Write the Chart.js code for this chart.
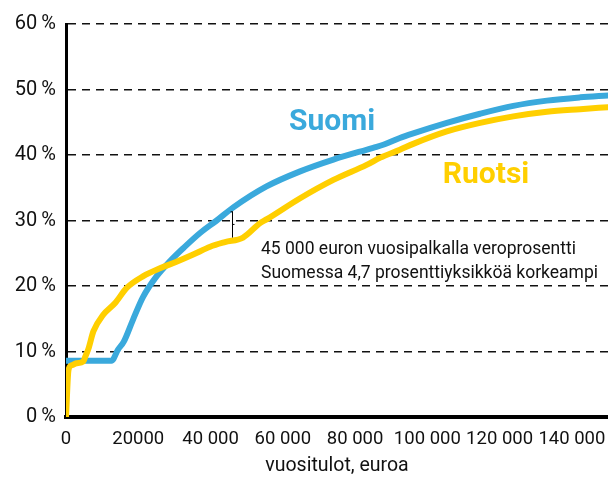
<!DOCTYPE html>
<html>
<head>
<meta charset="utf-8">
<script src="https://cdn.jsdelivr.net/npm/chart.js@4.4.1/dist/chart.umd.min.js"></script>
<style>
  html, body { margin: 0; padding: 0; background: #fff; }
  #wrap { position: relative; width: 608px; height: 478px; }
</style>
</head>
<body>
<div id="wrap"><canvas id="c" width="608" height="478"></canvas></div>
<script>
// ---- data ----
const suomiIncome = [0, 12600, 14400, 16000, 18500, 21300, 25100, 28800, 32500, 37100, 41700, 46300, 55500, 64800, 74000, 85000, 88000, 92400, 96100, 105400, 114600, 123800, 133100, 142300, 150000];
const suomiRate   = [8.6, 8.6, 10.3, 11.5, 14.8, 18.3, 21.5, 23.8, 25.8, 28.1, 30.0, 32.0, 35.2, 37.5, 39.3, 41.1, 41.6, 42.6, 43.3, 44.9, 46.3, 47.5, 48.3, 48.8, 49.1];

const ruotsiIncome = [0, 700, 1600, 2900, 4800, 5400, 6200, 7600, 10300, 13600, 16800, 21400, 26000, 30600, 35200, 39900, 44000, 49000, 53700, 55600, 64800, 74000, 83200, 87000, 92400, 96100, 105400, 114600, 123800, 133100, 142300, 150000];
const ruotsiRate   = [0, 7.2, 7.9, 8.2, 8.5, 9.3, 10.4, 13.1, 15.6, 17.4, 19.7, 21.5, 22.7, 23.7, 24.8, 26.0, 26.7, 27.4, 29.6, 30.2, 33.4, 36.2, 38.5, 39.6, 40.8, 41.7, 43.6, 44.9, 45.9, 46.6, 47.0, 47.3];

const xTickValues = [0, 20000, 40000, 60000, 80000, 100000, 120000, 140000];
const xTickLabels = ['0', '20000', '40 000', '60 000', '80 000', '100 000', '120 000', '140 000'];
const yTickValues = [0, 10, 20, 30, 40, 50, 60];

const seriesNames = ['Suomi', 'Ruotsi'];
const axisTitle = 'vuositulot, euroa';
const noteLines = ['45 000 euron vuosipalkalla veroprosentti', 'Suomessa 4,7 prosenttiyksikköä korkeampi'];
const bracketIncome = 46000;
const bracketTop = 31.4;
const bracketBottom = 27.4;

const BLUE = '#3aa9dc';
const YELLOW = '#ffcf00';
const TICKFONT = "Roboto, sans-serif";

const toPts = (xs, ys) => xs.map((x, i) => ({ x: x, y: ys[i] }));

const overlay = {
  id: 'overlay',
  afterDatasetsDraw(chart) {
    const ctx = chart.ctx;
    const xs = chart.scales.x, ys = chart.scales.y;
    ctx.save();
    // bracket
    const bx = Math.round(xs.getPixelForValue(bracketIncome)) + 0.5;
    const by1 = ys.getPixelForValue(bracketTop);
    const by2 = ys.getPixelForValue(bracketBottom);
    ctx.strokeStyle = '#000';
    ctx.lineWidth = 1;
    ctx.beginPath();
    ctx.moveTo(bx, by1); ctx.lineTo(bx, by2);
    ctx.moveTo(bx - 2, by1 + 0.5); ctx.lineTo(bx, by1 + 0.5);
    const bm = (by1 + by2) / 2;
    ctx.moveTo(bx, bm); ctx.lineTo(bx + 2, bm);
    ctx.stroke();

    // series labels
    ctx.textAlign = 'center';
    ctx.textBaseline = 'middle';
    ctx.font = "bold 30px Roboto, 'Open Sans', sans-serif";
    ctx.fillStyle = BLUE;
    ctx.fillText(seriesNames[0], 332, 122);
    ctx.fillStyle = YELLOW;
    ctx.fillText(seriesNames[1], 486, 175);

    // note
    ctx.textAlign = 'left';
    ctx.textBaseline = 'alphabetic';
    ctx.fillStyle = '#111';
    ctx.font = "17.5px Roboto, sans-serif";
    ctx.fillText(noteLines[0], 261, 254);
    ctx.fillText(noteLines[1], 261, 278);
    ctx.restore();
  }
};

new Chart(document.getElementById('c'), {
  type: 'line',
  data: {
    datasets: [
      {
        label: seriesNames[1],
        data: toPts(ruotsiIncome, ruotsiRate),
        borderColor: YELLOW,
        borderWidth: 6,
        pointRadius: 0,
        cubicInterpolationMode: 'monotone',
        borderCapStyle: 'round',
        borderJoinStyle: 'round',
        fill: false
      },
      {
        label: seriesNames[0],
        data: toPts(suomiIncome, suomiRate),
        borderColor: BLUE,
        borderWidth: 6,
        pointRadius: 0,
        cubicInterpolationMode: 'monotone',
        borderCapStyle: 'round',
        borderJoinStyle: 'round',
        fill: false
      }
    ]
  },
  options: {
    responsive: false,
    animation: false,
    devicePixelRatio: 1,
    layout: { padding: { top: 24, left: 0, right: 0, bottom: 0 } },
    plugins: { legend: { display: false }, tooltip: { enabled: false } },
    scales: {
      x: {
        type: 'linear',
        min: 0,
        max: 150000,
        afterFit(s) { s.height = 61; s.paddingRight = 0; s.paddingLeft = 0; },
        afterBuildTicks(s) { s.ticks = xTickValues.map(v => ({ value: v })); },
        grid: { display: false, drawTicks: false },
        border: { display: true, color: '#000', width: 4 },
        ticks: {
          color: '#111',
          padding: 11,
          maxRotation: 0,
          autoSkip: false,
          font: { family: TICKFONT, size: 18.5 },
          callback(v) { const i = xTickValues.indexOf(v); return i >= 0 ? xTickLabels[i] : ''; }
        },
        title: {
          display: true,
          text: axisTitle,
          color: '#111',
          font: { family: TICKFONT, size: 19.5 },
          padding: { top: 0, bottom: 0 }
        }
      },
      y: {
        min: 0,
        max: 60,
        afterFit(s) { s.width = 66; },
        afterBuildTicks(s) { s.ticks = yTickValues.map(v => ({ value: v })); },
        grid: {
          drawTicks: false,
          color: (c) => (c.tick && c.tick.value === 0) ? 'rgba(0,0,0,0)' : '#111',
          lineWidth: 1.6
        },
        border: { display: true, color: '#000', width: 3, dash: [8, 6] },
        ticks: {
          color: '#111',
          padding: 10,
          font: { family: TICKFONT, size: 20 },
          callback(v) { return v + '\u2009%'; }
        }
      }
    }
  },
  plugins: [overlay]
});
</script>
</body>
</html>
